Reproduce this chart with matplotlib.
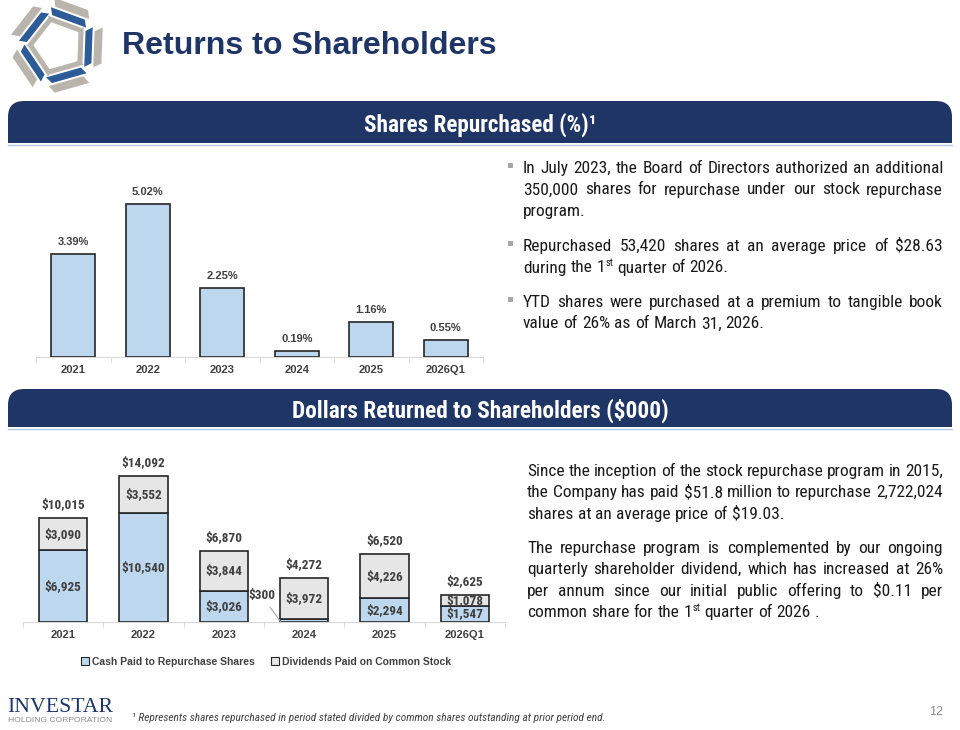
import numpy as np
import matplotlib
matplotlib.use('Agg')
import matplotlib.pyplot as plt
from matplotlib import font_manager
from matplotlib.patches import FancyBboxPatch, Rectangle, Polygon, Patch

names = {f.name for f in font_manager.fontManager.ttflist}
NARROW = 'Liberation Sans'
for cand in ['Liberation Sans Narrow', 'Arial Narrow', 'Roboto Condensed', 'Open Sans Condensed']:
    if cand in names:
        NARROW = cand
        break
plt.rcParams['font.family'] = ['Liberation Sans', 'DejaVu Sans']

NAVY = '#1F3566'
BLUE = '#BDD7EE'
GREY = '#E6E6E6'
EDGE = '#262626'
LABEL = '#404040'

# data
years = ['2021', '2022', '2023', '2024', '2025', '2026Q1']
pct_repurchased = [3.39, 5.02, 2.25, 0.19, 1.16, 0.55]
cash_repurchase = [6925, 10540, 3026, 300, 2294, 1547]
dividends_paid = [3090, 3552, 3844, 3972, 4226, 1078]
legend_labels = ['Cash Paid to Repurchase Shares', 'Dividends Paid on Common Stock']

# "^" marks a superscript inside a word
top_text = [
    ['In July 2023, the Board of Directors authorized an additional',
     '350,000 shares for repurchase under our stock repurchase',
     'program.'],
    ['Repurchased 53,420 shares at an average price of $28.63',
     'during the 1^st quarter of 2026.'],
    ['YTD shares were purchased at a premium to tangible book',
     'value of 26% as of March 31, 2026.'],
]
bottom_text = [
    ['Since the inception of the stock repurchase program in 2015,',
     'the Company has paid $51.8 million to repurchase 2,722,024',
     'shares at an average price of $19.03.'],
    ['The repurchase program is complemented by our ongoing',
     'quarterly shareholder dividend, which has increased at 26%',
     'per annum since our initial public offering to $0.11 per',
     'common share for the 1^st quarter of 2026 .'],
]

fig = plt.figure(figsize=(9.6, 7.3), dpi=100)
bg = fig.add_axes([0, 0, 1, 1])
bg.set_xlim(0, 960)
bg.set_ylim(730, 0)
bg.axis('off')
r = fig.canvas.get_renderer()


def box(left, top, right, bottom):
    return [left / 960, 1 - bottom / 730, (right - left) / 960, (bottom - top) / 730]


def measure(s, size, **kw):
    t = bg.text(0, 0, s, fontsize=size, **kw)
    w = t.get_window_extent(renderer=r).width
    t.remove()
    return w


def fit(x, y, s, width, **kw):
    size = 10 * width / measure(s, 10, **{k: v for k, v in kw.items() if k in ('family', 'weight', 'style')})
    return bg.text(x, y, s, fontsize=size, **kw)


def word_width(w, size):
    if '^' in w:
        base, sup = w.split('^')
        return measure(base, size, family=NARROW) + measure(sup, size * 0.6, family=NARROW)
    return measure(w, size, family=NARROW)


def draw_word(x, y, w, size):
    kw = dict(family=NARROW, color='#1A1A1A', ha='left', va='baseline')
    if '^' in w:
        base, sup = w.split('^')
        bg.text(x, y, base, fontsize=size, **kw)
        bx = x + measure(base, size, family=NARROW)
        bg.text(bx, y - size * 100 / 72 * 0.36, sup, fontsize=size * 0.6, **kw)
    else:
        bg.text(x, y, w, fontsize=size, **kw)


def paragraph(lines, x0, x1, y, dy, size, bullet=False):
    space = size * 100 / 72 * 0.24
    if bullet:
        bg.add_patch(Rectangle((x0 - 15, y - 10), 5, 5, fc='#A6A6A6', ec='none'))
    for i, line in enumerate(lines):
        words = line.split(' ')
        ws = [word_width(w, size) for w in words]
        gap = space
        if i < len(lines) - 1 and len(words) > 1:
            gap = (x1 - x0 - sum(ws)) / (len(words) - 1)
        xx = x0
        for w, wd in zip(words, ws):
            draw_word(xx, y + i * dy, w, size)
            xx += wd + gap


def header(top, bottom, title, width):
    bg.add_patch(FancyBboxPatch((8, top), 944, bottom - top,
                                boxstyle='round,pad=0,rounding_size=16', fc=NAVY, ec='none'))
    bg.add_patch(Rectangle((8, (top + bottom) / 2), 944, (bottom - top) / 2, fc=NAVY, ec='none'))
    bg.plot([8, 952], [bottom + 1.5, bottom + 1.5], color='#B4C7E7', lw=1)
    fit(480, (top + bottom) / 2 + 3, title, width, family=NARROW, weight='bold',
        color='white', ha='center', va='center')


# logo pinwheel
cx, cy = 58, 46
tilt = np.array([[np.cos(0.35), np.sin(0.35)], [-np.sin(0.35), np.cos(0.35)]])
for k in range(5):
    th = np.deg2rad(72 * k)
    rot = np.array([[np.cos(th), -np.sin(th)], [np.sin(th), np.cos(th)]])
    for v0, v1, col in [(-44, -36, '#B9B4AC'), (-34, -27, '#2D5B98'), (-25, -20, '#B9B4AC')]:
        pts = np.array([[-20, v0], [16, v0], [20, v1], [-16, v1]])
        pts = (pts @ tilt) @ rot.T + [cx, cy]
        bg.add_patch(Polygon(pts, closed=True, fc=col, ec='none'))

fit(122, 46, 'Returns to Shareholders', 376, weight='bold', color=NAVY, ha='left', va='center')

header(101, 143, 'Shares Repurchased (%)\u00b9', 233)
header(389, 427, 'Dollars Returned to Shareholders ($000)', 376)

# paragraphs: one font size so the longest line still fits with plain spaces
size = 13
for lines, x0 in [(sum(top_text, []), 523), (sum(bottom_text, []), 527)]:
    for line in lines:
        natural = sum(word_width(w, 10) for w in line.split(' ')) + 10 * 100 / 72 * 0.24 * line.count(' ')
        size = min(size, 10 * (943 - x0) / natural)
for lines, y in zip(top_text, [173, 251, 307]):
    paragraph(lines, 523, 943, y, 21.5, size, bullet=True)
for lines, y in zip(bottom_text, [476, 553]):
    paragraph(lines, 527, 943, y, 21.3, size)

# footer
fit(7, 712, 'INVESTAR', 106, family='Liberation Serif', color=NAVY, ha='left', va='baseline')
fit(8, 721, 'HOLDING CORPORATION', 103, color='#8C8C8C', ha='left', va='center')
fit(132, 718, '\u00b9 Represents shares repurchased in period stated divided by common shares outstanding at prior period end.',
    473, family=NARROW, style='italic', color=LABEL, ha='left', va='center')
bg.text(936, 712, '12', fontsize=9, color='#8C8C8C', ha='center', va='center')


def style_axis(ax, x):
    ax.patch.set_alpha(0)
    for s in ['left', 'right', 'top']:
        ax.spines[s].set_visible(False)
    ax.spines['bottom'].set_color('#D9D9D9')
    ax.set_yticks([])
    ax.set_xticks(x, years)
    ax.set_xticks(np.arange(-0.5, len(x)), minor=True)
    ax.tick_params(axis='x', which='major', length=0, pad=6, labelsize=8, labelcolor=LABEL)
    ax.tick_params(axis='x', which='minor', length=4, color='#D9D9D9')
    for lab in ax.get_xticklabels():
        lab.set_fontweight('bold')
    ax.set_xlim(-0.5, len(x) - 0.5)


x = np.arange(len(years))

# top chart
ax1 = fig.add_axes(box(36, 180, 483, 357))
ax1.bar(x, pct_repurchased, 0.59, color=BLUE, edgecolor=EDGE, lw=1.2, zorder=3)
for xi, v in zip(x, pct_repurchased):
    ax1.annotate(f'{v:.2f}%', (xi, v), xytext=(0, 5), textcoords='offset points',
                 ha='center', va='bottom', fontsize=8, weight='bold', color=LABEL)
ax1.set_ylim(0, 5.8)
style_axis(ax1, x)

# bottom chart
ax2 = fig.add_axes(box(23, 450, 505, 622))
ax2.bar(x, cash_repurchase, 0.6, color=BLUE, edgecolor=EDGE, lw=1.2, zorder=3)
ax2.bar(x, dividends_paid, 0.6, bottom=cash_repurchase, color=GREY, edgecolor=EDGE, lw=1.2, zorder=3)
lab_kw = dict(ha='center', va='center', fontsize=9.5, weight='bold', family=NARROW, color=LABEL, zorder=4)
for xi, c, d in zip(x, cash_repurchase, dividends_paid):
    if c > 1000:
        ax2.text(xi, c / 2, f'${c:,}', **lab_kw)
    else:
        ax2.annotate(f'${c:,}', (xi - 0.29, 0), xytext=(-14, 19), textcoords='offset points',
                     arrowprops=dict(arrowstyle='-', color='#A6A6A6', lw=0.8, shrinkA=2, shrinkB=0),
                     **lab_kw)
    ax2.text(xi, c + d / 2, f'${d:,}', **lab_kw)
    ax2.annotate(f'${c + d:,}', (xi, c + d), xytext=(0, 5), textcoords='offset points',
                 ha='center', va='bottom', fontsize=9.5, weight='bold', family=NARROW, color=LABEL)
ax2.set_ylim(0, 16600)
style_axis(ax2, x)

fig.legend(handles=[Patch(fc=BLUE, ec=EDGE, lw=0.8), Patch(fc=GREY, ec=EDGE, lw=0.8)],
           labels=legend_labels, loc='center', bbox_to_anchor=(266 / 960, 1 - 662 / 730),
           ncol=2, frameon=False, prop={'weight': 'bold', 'size': 7.5},
           handlelength=0.8, handleheight=0.8, handletextpad=0.3, columnspacing=1.5,
           labelcolor=LABEL)

fig.savefig('out.png', dpi=100)
